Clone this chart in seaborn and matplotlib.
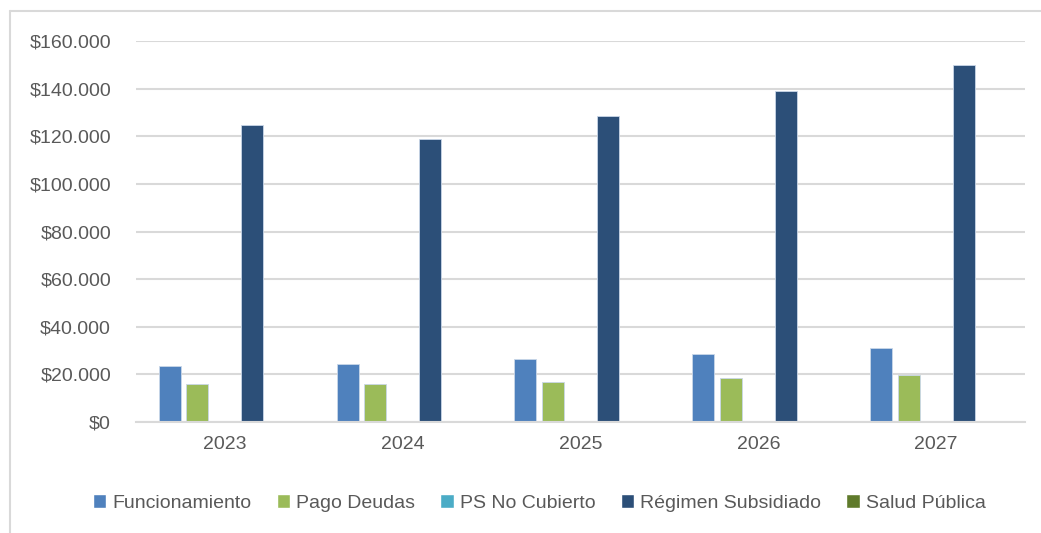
import matplotlib
matplotlib.use("Agg")
import matplotlib.pyplot as plt
import matplotlib.ticker as mticker
from matplotlib.patches import Patch
import seaborn as sns
import pandas as pd

years = ["2023", "2024", "2025", "2026", "2027"]
series = ["Funcionamiento", "Pago Deudas", "PS No Cubierto", "Régimen Subsidiado", "Salud Pública"]
funcionamiento = [23500, 24400, 26500, 28400, 31000]
pago_deudas = [16000, 16000, 16900, 18400, 19900]
ps_no_cubierto = [0, 0, 0, 0, 0]
regimen_subsidiado = [124700, 118900, 128500, 139000, 149900]
salud_publica = [0, 0, 0, 0, 0]
colors = ["#4F81BD", "#9BBB59", "#4BACC6", "#2C4F78", "#5F7A2B"]

values = [funcionamiento, pago_deudas, ps_no_cubierto, regimen_subsidiado, salud_publica]
rows = []
for name, vals in zip(series, values):
    for y, v in zip(years, vals):
        rows.append({"Año": y, "Serie": name, "Valor": v})
df = pd.DataFrame(rows)

sns.set_style("white")
plt.rcParams["font.family"] = ["Liberation Sans", "DejaVu Sans"]
txt = "#595959"

fig = plt.figure(figsize=(10.41, 5.33), dpi=100)
ax = fig.add_axes([136 / 1041, 1 - 422 / 533, 889 / 1041, 381 / 533])
sns.barplot(data=df, x="Año", y="Valor", hue="Serie", hue_order=series,
            palette=colors, saturation=1, width=0.775, gap=0.2, ax=ax, legend=False,
            edgecolor="#C9D7E8", linewidth=0.6)

ax.set_ylim(0, 160000)
ax.yaxis.set_major_locator(mticker.MultipleLocator(20000))
ax.yaxis.set_major_formatter(mticker.FuncFormatter(lambda v, p: "$" + f"{int(v):,}".replace(",", ".")))
ax.grid(axis="y", color="#D9D9D9", linewidth=1.5)
ax.set_axisbelow(True)
for s in ["top", "right", "left"]:
    ax.spines[s].set_visible(False)
ax.spines["bottom"].set_color("#D9D9D9")
ax.spines["bottom"].set_linewidth(1.5)
ax.set_xlabel("")
ax.set_ylabel("")
ax.tick_params(axis="both", length=0, labelsize=14, labelcolor=txt)
ax.tick_params(axis="y", pad=18)
ax.tick_params(axis="x", pad=10)

handles = [Patch(facecolor=c, label=n) for c, n in zip(colors, series)]
fig.legend(handles=handles, loc="center", bbox_to_anchor=(0.518, 1 - 503 / 533), ncol=5,
           frameon=False, fontsize=14, labelcolor=txt, handlelength=0.7, handleheight=0.7,
           handletextpad=0.3, columnspacing=1.3)

# outer chart border
fig.add_artist(plt.Line2D([10 / 1041, 1], [1 - 11 / 533, 1 - 11 / 533], color="#D9D9D9", linewidth=1.5))
fig.add_artist(plt.Line2D([10 / 1041, 10 / 1041], [0, 1 - 11 / 533], color="#D9D9D9", linewidth=1.5))

fig.savefig("out.png", dpi=100)
